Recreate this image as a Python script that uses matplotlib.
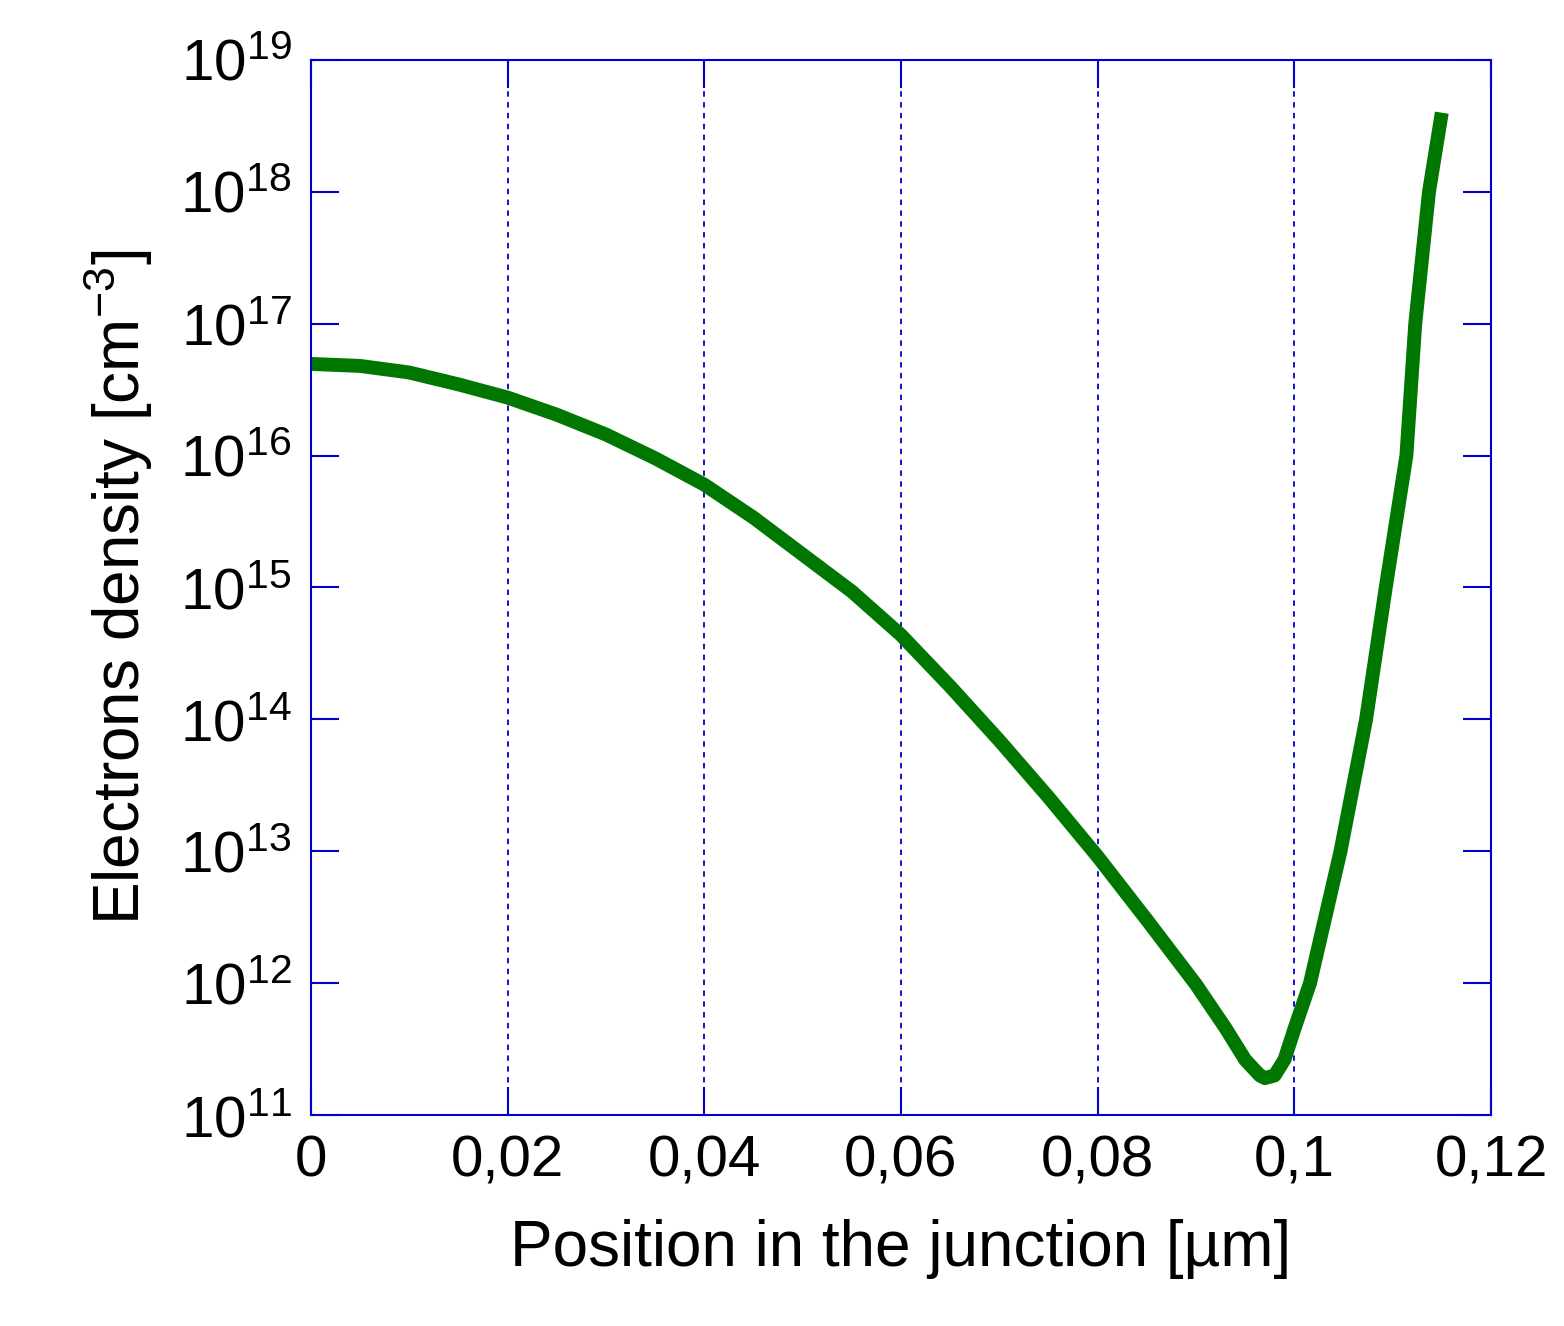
import math
import matplotlib
matplotlib.use("Agg")
import matplotlib.pyplot as plt
from matplotlib.ticker import FixedLocator, FuncFormatter

plt.rcParams['font.family'] = ['Liberation Sans', 'DejaVu Sans']

x_um = [0.0, 0.005, 0.01, 0.015, 0.02, 0.025, 0.03, 0.035, 0.04, 0.045, 0.05, 0.055, 0.06,
        0.065, 0.07, 0.075, 0.08, 0.085, 0.09, 0.093, 0.095, 0.0965, 0.097, 0.098, 0.099,
        0.1, 0.1016, 0.1047, 0.1073, 0.1093, 0.1114, 0.1123, 0.1137, 0.115]
log_n = [16.695, 16.68, 16.63, 16.54, 16.44, 16.31, 16.16, 15.98, 15.78, 15.53, 15.25, 14.97, 14.64,
         14.25, 13.84, 13.41, 12.96, 12.48, 11.99, 11.66, 11.42, 11.30, 11.28, 11.30, 11.42,
         11.65, 12.0, 13.0, 14.0, 15.0, 16.0, 17.0, 18.0, 18.6]
n = [10 ** v for v in log_n]

xticks = [0, 0.02, 0.04, 0.06, 0.08, 0.1, 0.12]
ydec = list(range(11, 20))

fig = plt.figure(figsize=(15.64, 13.26), dpi=100)
ax = fig.add_axes([0.1988, 0.1591, 0.7545, 0.7957])
ax.plot(x_um, n, color='#007700', lw=10, solid_capstyle='butt')
ax.set_yscale('log')
ax.set_xlim(0, 0.12)
ax.set_ylim(1e11, 1e19)
ax.xaxis.set_major_locator(FixedLocator(xticks))
ax.xaxis.set_major_formatter(FuncFormatter(lambda v, p: ('%g' % round(v, 3)).replace('.', ',')))
ax.yaxis.set_major_locator(FixedLocator([10.0 ** d for d in ydec]))
ax.yaxis.set_minor_locator(FixedLocator([]))
ax.yaxis.set_major_formatter(FuncFormatter(lambda v, p: r'$\mathregular{10^{%d}}$' % round(math.log10(v))))
for s in ax.spines.values():
    s.set_color('#0000cc'); s.set_linewidth(1.5)
ax.tick_params(which='both', direction='in', top=True, right=True, color='#0000cc',
               length=20, width=1.5, labelsize=42, pad=14)
ax.grid(axis='x', color='#0000cc', ls=(0, (3, 3)), lw=1.3)
ax.set_xlabel('Position in the junction [µm]', fontsize=46, labelpad=22)
ax.set_ylabel(r'Electrons density [cm$^{\mathregular{-3}}$]', fontsize=46, labelpad=18)
fig.savefig('out.png', dpi=100)
